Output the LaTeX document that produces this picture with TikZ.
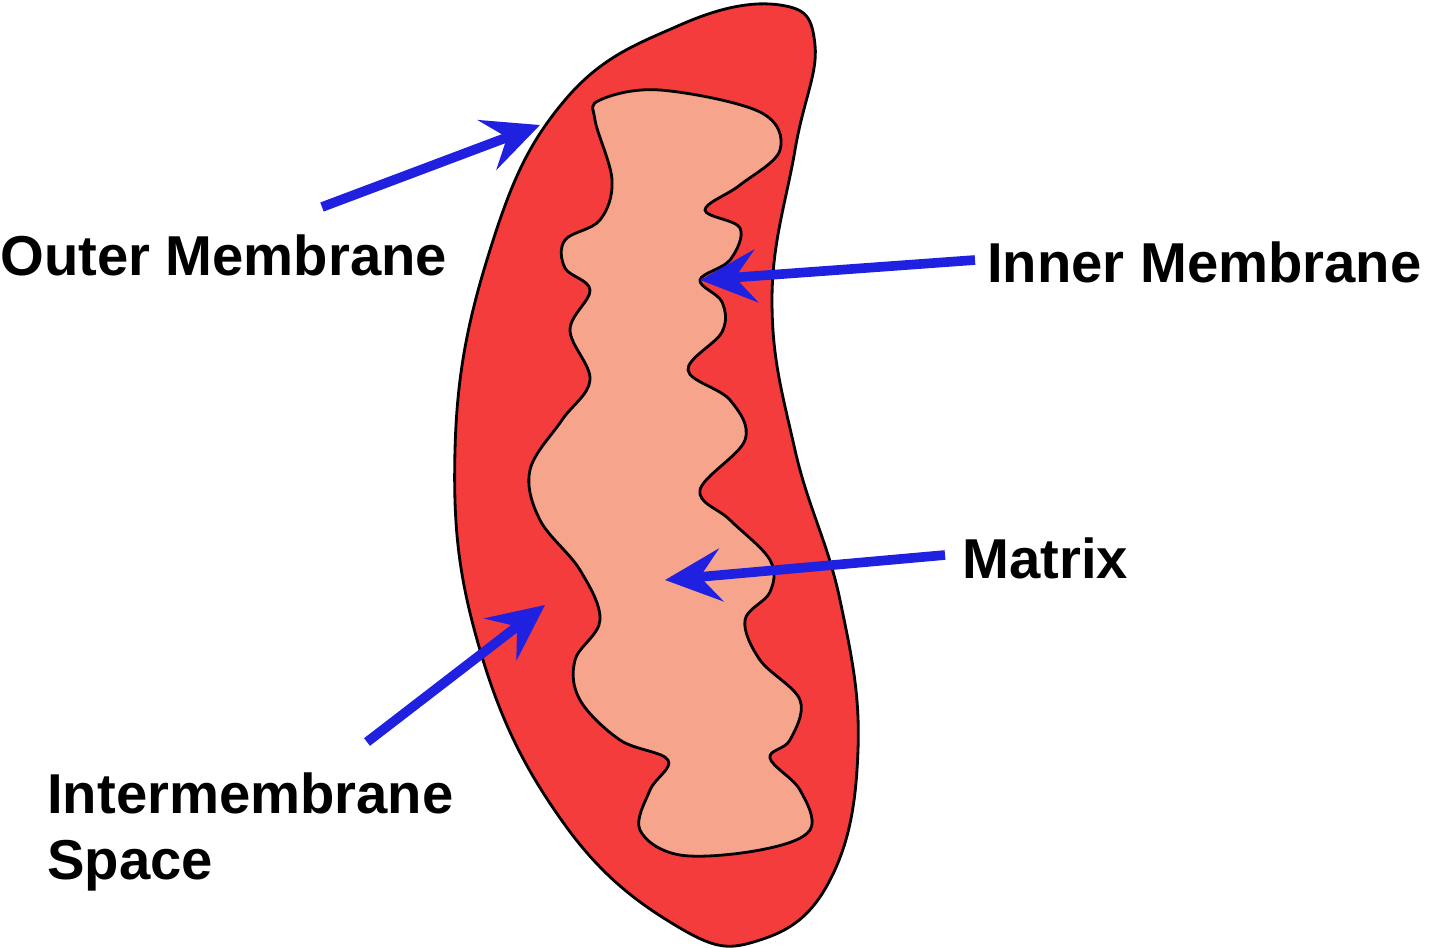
\documentclass[tikz,border=0pt]{standalone}
\usepackage{fontspec}
\setmainfont{Liberation Sans}
\usetikzlibrary{arrows.meta}
\definecolor{outerred}{HTML}{F53C3C}
\definecolor{matrixc}{HTML}{F7A48C}
\definecolor{arrowblue}{HTML}{2020E0}
\begin{document}
\begin{tikzpicture}[x=0.02cm,y=-0.02cm,
  lbl/.style={font=\fontsize{32}{36}\selectfont\bfseries,inner sep=0pt},
  ptr/.style={draw=arrowblue,line width=5.5pt,-{Stealth[length=32pt,width=30pt,inset=12pt]}}]
\useasboundingbox (0,0) rectangle (1440,947);
\draw[fill=outerred,line width=1.6pt] plot[smooth cycle,tension=0.7] coordinates{
(780,5)(815,45)(795,150)(772,300)(795,450)(840,600)(858,750)(830,880)(760,940)(680,928)(565,825)(480,650)(455,450)(490,250)(565,100)(680,25)};
\draw[fill=matrixc,line width=1.6pt] plot[smooth cycle,tension=0.6] coordinates{
(600,100)(660,90)(760,112)(780,150)(740,185)(705,210)(740,228)(730,260)(700,280)(722,302)(722,332)(688,370)(730,400)(745,440)(700,490)(730,520)(770,560)(770,592)(745,620)(760,660)(800,700)(790,740)(770,758)(800,790)(810,830)(760,850)(680,855)(640,830)(650,790)(668,760)(620,740)(580,700)(575,660)(600,620)(580,570)(540,520)(530,470)(562,420)(590,380)(570,330)(590,290)(565,268)(565,240)(600,220)(612,180)(595,120)};
\node[lbl,anchor=west] (om) at (0,255) {Outer Membrane};
\node[lbl,anchor=west] (im) at (987,262) {Inner Membrane};
\node[lbl,anchor=west] (mx) at (962,558) {Matrix};
\node[lbl,anchor=west,align=left] (ims) at (47,832) {Intermembrane\\[2pt]Space};
\coordinate (om0) at (322,207); \coordinate (om1) at (540,125);
\coordinate (im0) at (975,260); \coordinate (im1) at (700,280);
\coordinate (mx0) at (945,555); \coordinate (mx1) at (665,580);
\coordinate (is0) at (367,742); \coordinate (is1) at (545,605);
\draw[ptr] (om0) -- (om1);
\draw[ptr] (im0) -- (im1);
\draw[ptr] (mx0) -- (mx1);
\draw[ptr] (is0) -- (is1);
\end{tikzpicture}
\end{document}
